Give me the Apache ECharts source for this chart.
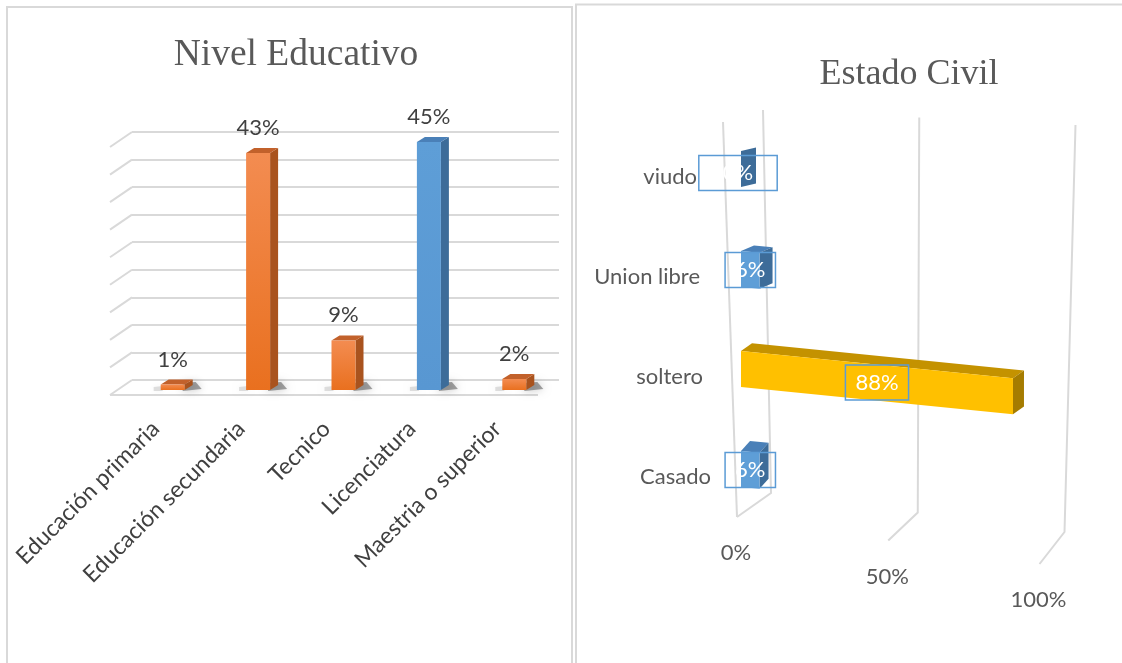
<!DOCTYPE html>
<html>
<head>
<meta charset="utf-8">
<script src="https://cdn.jsdelivr.net/npm/echarts@6/dist/echarts.min.js"></script>
<style>
  html, body { margin: 0; padding: 0; background: #fff; }
  #chart { width: 1122px; height: 663px; }
</style>
</head>
<body>
<div id="chart"></div>
<script>
// ---- data ----
const eduCategories = ['Educación primaria', 'Educación secundaria', 'Tecnico', 'Licenciatura', 'Maestria o superior'];
const eduValues = [1, 43, 9, 45, 2];
const eduTicks = [0, 5, 10, 15, 20, 25, 30, 35, 40, 45];

const civilCategories = ['Casado', 'soltero', 'Union libre', 'viudo'];
const civilValues = [6, 88, 6, 0];
const civilTicks = [0, 50, 100];
const civilTickLabels = ['0%', '50%', '100%'];

// ---- styling ----
const eduTone = ['orange', 'orange', 'orange', 'blue', 'orange'];
const civilTone = ['blue', 'gold', 'blue', 'blue'];
const FACES = {
  orange: { front: ['#F38C51', '#E9701F'], side: '#A9531E', top: '#C2612B' },
  blue:   { front: ['#5E9ED7', '#5897D2'], side: '#3D6C99', top: '#4A80B8' },
  gold:   { front: ['#FFC000', '#FFC000'], side: '#A57C00', top: '#C49200' }
};
const GRID_COLOR = '#d9d9d9';
const SANS = 'Lato, "Open Sans", sans-serif';
// perspective: category labels further back sit slightly further left
const civilLabelInset = [0, 8, 11, 14];

function grad(c) {
  return { type: 'linear', x: 0, y: 0, x2: 0, y2: 1,
    colorStops: [{ offset: 0, color: c[0] }, { offset: 1, color: c[1] }] };
}

// left chart: depth stubs on each gridline plus the floor's front edge
function eduFloor(params, api) {
  const cs = params.coordSys;
  const v = api.value(1);
  const y = api.coord([0, v])[1];
  const children = [{
    type: 'line', shape: { x1: cs.x, y1: y, x2: cs.x - 22, y2: y + 15 },
    style: { stroke: GRID_COLOR, lineWidth: 2 }
  }];
  if (v === 0) {
    children.push({
      type: 'line', shape: { x1: cs.x - 22, y1: y + 15, x2: cs.x + cs.width - 21, y2: y + 15 },
      style: { stroke: GRID_COLOR, lineWidth: 2 }
    });
  }
  return { type: 'group', children };
}

// left chart: 3D column with its value label
function eduBar(params, api) {
  const i = api.value(0), v = api.value(1);
  const top = api.coord([i, v]), base = api.coord([i, 0]);
  const w = 24, ox = -2, oy = 10, dx = 8, dy = -5;
  const xl = top[0] + ox - w / 2, xr = xl + w;
  const yt = top[1] + oy, yb = base[1] + oy;
  const f = FACES[eduTone[i]];
  return { type: 'group', children: [
    { type: 'polygon', shape: { points: [[xl - 7, yb - 3], [xl + 2, yb - 4], [xl + 2, yb + 1], [xl - 7, yb + 1]] },
      style: { fill: 'rgba(90,90,90,0.18)', shadowBlur: 6, shadowColor: 'rgba(0,0,0,0.3)' } },
    { type: 'polygon', shape: { points: [[xr - 2, yb - 7], [xr + 11, yb - 8], [xr + 17, yb - 1], [xr - 2, yb + 1]] },
      style: { fill: 'rgba(40,40,40,0.42)', shadowBlur: 8, shadowColor: 'rgba(0,0,0,0.55)' } },
    { type: 'polygon', shape: { points: [[xr, yt], [xr + dx, yt + dy], [xr + dx, yb + dy], [xr, yb]] },
      style: { fill: f.side } },
    { type: 'polygon', shape: { points: [[xl, yt], [xl + dx, yt + dy], [xr + dx, yt + dy], [xr, yt]] },
      style: { fill: f.top } },
    { type: 'rect', shape: { x: xl, y: yt, width: w, height: yb - yt },
      style: { fill: grad(f.front) } },
    { type: 'text', style: { text: v + '%', x: xl + w / 2, y: yt - 25, align: 'center', verticalAlign: 'middle',
      fill: '#404040', fontSize: 22, fontFamily: SANS } }
  ] };
}

// right chart: perspective gridlines with their percentage labels
function civilGrid(params, api) {
  const cs = params.coordSys;
  const v = api.value(0);
  const xb = api.coord([v, 0])[0];
  const t = (xb - cs.x) / cs.width;
  const top = [xb - 4 + 9.5 * t, cs.y - 17 + 15 * t];
  const bot = [xb + 4 - 9.5 * t, cs.y + cs.height - 34 + 39 * t];
  const front = [bot[0] - 34 + 9 * t, bot[1] + 24 + 8 * t];
  const children = [
    { type: 'polyline', shape: { points: [top, bot, front] },
      style: { stroke: GRID_COLOR, lineWidth: 2, fill: null } },
    { type: 'text', style: { text: civilTickLabels[params.dataIndex], x: front[0] - 1, y: front[1] + 36,
      align: 'center', verticalAlign: 'middle', fill: '#595959', fontSize: 22, fontFamily: SANS } }
  ];
  if (v === 0) {
    children.push({ type: 'line', shape: { x1: xb - 44, y1: cs.y - 5, x2: front[0], y2: front[1] },
      style: { stroke: GRID_COLOR, lineWidth: 2 } });
  }
  return { type: 'group', children };
}

// right chart: 3D horizontal bar with a boxed value label
function civilBar(params, api) {
  const cs = params.coordSys;
  const v = api.value(0), i = api.value(1);
  const p = api.coord([v, i]);
  const x0 = cs.x - 26;
  const L = (p[0] - cs.x) * 1.02;
  const yc = p[1] - 8, h = 18, sk = 0.1;
  const TL = [x0, yc - h], BL = [x0, yc + h];
  const TR = [x0 + L, yc - h + sk * L], BR = [x0 + L, yc + h + sk * L];
  const d = [9 + 2 * i, -10 + 2.2 * i];
  const add = (a) => [a[0] + d[0], a[1] + d[1]];
  const f = FACES[civilTone[i]];
  const children = [];
  if (L > 0) {
    children.push({ type: 'polygon', shape: { points: [TL, add(TL), add(TR), TR] }, style: { fill: f.top } });
  }
  children.push({ type: 'polygon', shape: { points: [TR, add(TR), add(BR), BR] }, style: { fill: f.side } });
  if (L > 0) {
    children.push({ type: 'polygon', shape: { points: [TL, TR, BR, BL] }, style: { fill: f.front[0] } });
  }
  // an empty bar keeps a wider label frame
  const padX = L > 0 ? 10 : 24;
  children.push({ type: 'text', style: {
    text: v + '%', x: x0 + L / 2 - (L > 0 ? 0 : 3), y: yc + sk * L / 2 + (L > 0 ? 0 : 4),
    align: 'center', verticalAlign: 'middle',
    fill: '#ffffff', fontSize: 22, fontFamily: SANS,
    padding: [7, padX, 6, padX], borderColor: '#5B9BD5', borderWidth: 1.5
  } });
  return { type: 'group', children };
}

const TITLE_STYLE = { fontFamily: '"Liberation Serif", serif', fontWeight: 'normal', color: '#595959' };

const civilRich = {};
civilLabelInset.forEach((pad, k) => {
  civilRich['c' + k] = { padding: [0, pad, 0, 0], color: '#595959', fontSize: 22, fontFamily: SANS };
});

const chart = echarts.init(document.getElementById('chart'));
chart.setOption({
  animation: false,
  backgroundColor: '#ffffff',
  graphic: [
    { type: 'rect', shape: { x: 7, y: 7, width: 565, height: 720 },
      style: { fill: null, stroke: GRID_COLOR, lineWidth: 2 }, silent: true },
    { type: 'rect', shape: { x: 576, y: 4.5, width: 600, height: 720 },
      style: { fill: null, stroke: GRID_COLOR, lineWidth: 2 }, silent: true }
  ],
  title: [
    { text: 'Nivel Educativo', left: 291, top: 31, textAlign: 'center',
      textStyle: Object.assign({ fontSize: 37.5 }, TITLE_STYLE) },
    { text: 'Estado Civil', left: 904, top: 52, textAlign: 'center',
      textStyle: Object.assign({ fontSize: 36 }, TITLE_STYLE) }
  ],
  grid: [
    { left: 132, right: 563, top: 132, bottom: 283, containLabel: false, outerBoundsMode: 'none' },
    { left: 767, right: 52, top: 127, bottom: 136, containLabel: false, outerBoundsMode: 'none' },
    // category labels under the columns sit on the floor's front edge
    { left: 113, right: 582, top: 132, bottom: 283, containLabel: false, outerBoundsMode: 'none' }
  ],
  xAxis: [
    { type: 'category', gridIndex: 0, data: eduCategories, show: false },
    { type: 'value', gridIndex: 1, min: 0, max: 100, interval: 50, show: false },
    { type: 'category', gridIndex: 2, data: eduCategories,
      axisLine: { show: false }, axisTick: { show: false }, splitLine: { show: false },
      axisLabel: { interval: 0, rotate: 45, margin: 45,
        color: '#404040', fontSize: 23, fontFamily: SANS } }
  ],
  yAxis: [
    { type: 'value', gridIndex: 0, min: 0, max: 45, interval: 5,
      axisLine: { show: false }, axisTick: { show: false }, axisLabel: { show: false },
      splitLine: { show: true, lineStyle: { color: GRID_COLOR, width: 2 } } },
    { type: 'category', gridIndex: 1, data: civilCategories,
      axisLine: { show: false }, axisTick: { show: false }, splitLine: { show: false },
      axisLabel: { margin: 56, color: '#595959', fontSize: 22, fontFamily: SANS,
        formatter: (value, index) => '{c' + index + '|' + value + '}', rich: civilRich } },
    { type: 'value', gridIndex: 2, min: 0, max: 45, interval: 5, show: false }
  ],
  series: [
    { type: 'custom', xAxisIndex: 0, yAxisIndex: 0, clip: false, silent: true, z: 1,
      encode: { x: 0, y: 1 }, renderItem: eduFloor,
      data: eduTicks.map(v => [0, v]) },
    { type: 'custom', xAxisIndex: 0, yAxisIndex: 0, clip: false, silent: true, z: 2,
      encode: { x: 0, y: 1 }, renderItem: eduBar,
      data: eduValues.map((v, i) => [i, v]) },
    { type: 'custom', xAxisIndex: 1, yAxisIndex: 1, clip: false, silent: true, z: 1,
      encode: { x: 0, y: 1 }, renderItem: civilGrid,
      data: civilTicks.map(v => [v, 0]) },
    { type: 'custom', xAxisIndex: 1, yAxisIndex: 1, clip: false, silent: true, z: 2,
      encode: { x: 0, y: 1 }, renderItem: civilBar,
      data: civilValues.map((v, i) => [v, i]) }
  ]
});
</script>
</body>
</html>
